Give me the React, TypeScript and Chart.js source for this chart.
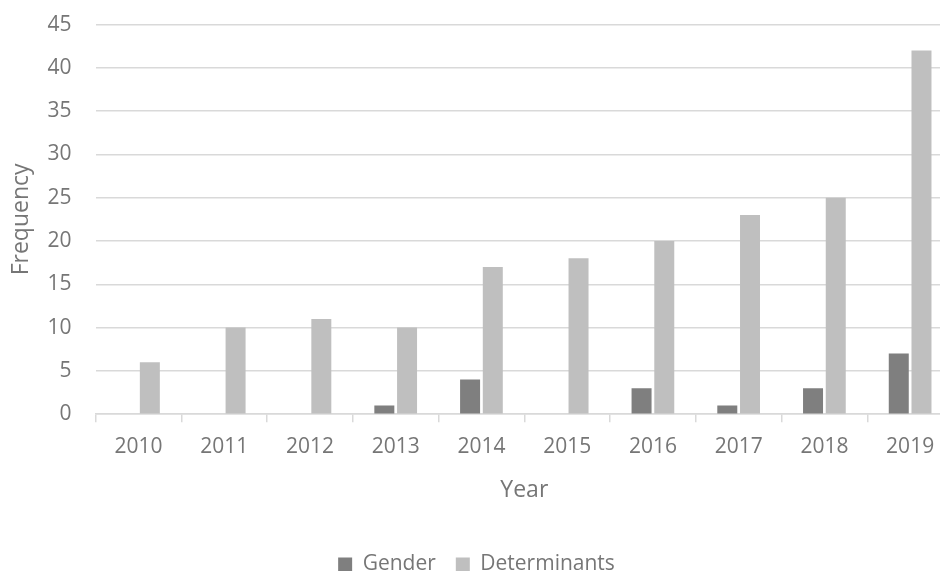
import React, { useEffect, useRef } from "react";
import { Chart, registerables } from "chart.js";

Chart.register(...registerables);

const years = ["2010", "2011", "2012", "2013", "2014", "2015", "2016", "2017", "2018", "2019"];
const gender = [0, 0, 0, 1, 4, 0, 3, 1, 3, 7];
const determinants = [6, 10, 11, 10, 17, 18, 20, 23, 25, 42];

const TEXT = "#767676";
const GRID = "#d9d9d9";
const FONT = "'Open Sans', sans-serif";

export default function App() {
  const ref = useRef<HTMLCanvasElement | null>(null);
  useEffect(() => {
    if (!ref.current) return;
    const chart = new Chart(ref.current, {
      type: "bar",
      data: {
        labels: years,
        datasets: [
          { label: "Gender", data: gender, backgroundColor: "#7f7f7f" },
          { label: "Determinants", data: determinants, backgroundColor: "#bfbfbf" },
        ],
      },
      options: {
        responsive: false,
        animation: false,
        maintainAspectRatio: false,
        datasets: { bar: { categoryPercentage: 0.53, barPercentage: 0.88 } },
        layout: { padding: { top: 0, right: 7, left: 0, bottom: -14 } },
        plugins: {
          tooltip: { enabled: false },
          legend: {
            position: "bottom",
            labels: {
              color: TEXT,
              font: { family: FONT, size: 21 },
              boxWidth: 14,
              boxHeight: 14,
              padding: 20,
            },
          },
        },
        scales: {
          x: {
            grid: {
              offset: true,
              drawOnChartArea: false,
              drawTicks: true,
              tickLength: 8,
              color: GRID,
              lineWidth: 1.5,
            },
            border: { display: true, color: GRID, width: 1.5 },
            ticks: { color: TEXT, font: { family: FONT, size: 21 }, padding: 12 },
            title: {
              display: true,
              text: "Year",
              color: TEXT,
              font: { family: FONT, size: 23 },
              padding: { top: 5, bottom: 30 },
            },
          },
          y: {
            min: 0,
            max: 45,
            ticks: { stepSize: 5, color: TEXT, font: { family: FONT, size: 21 }, padding: 12 },
            grid: {
              color: GRID,
              lineWidth: 1.5,
              drawTicks: true,
              tickLength: 12,
              tickColor: "rgba(0,0,0,0)",
            },
            border: { display: false },
            title: {
              display: true,
              text: "Frequency",
              color: TEXT,
              font: { family: FONT, size: 23 },
              padding: { top: 8, bottom: 0 },
            },
          },
        },
      },
    });
    return () => chart.destroy();
  }, []);
  return (
    <div style={{ position: "absolute", left: 0, top: 0, width: 940, height: 571, overflow: "hidden", background: "#fff" }}>
      <canvas ref={ref} width={960} height={571} style={{ width: 960, height: 571, display: "block" }} />
    </div>
  );
}
